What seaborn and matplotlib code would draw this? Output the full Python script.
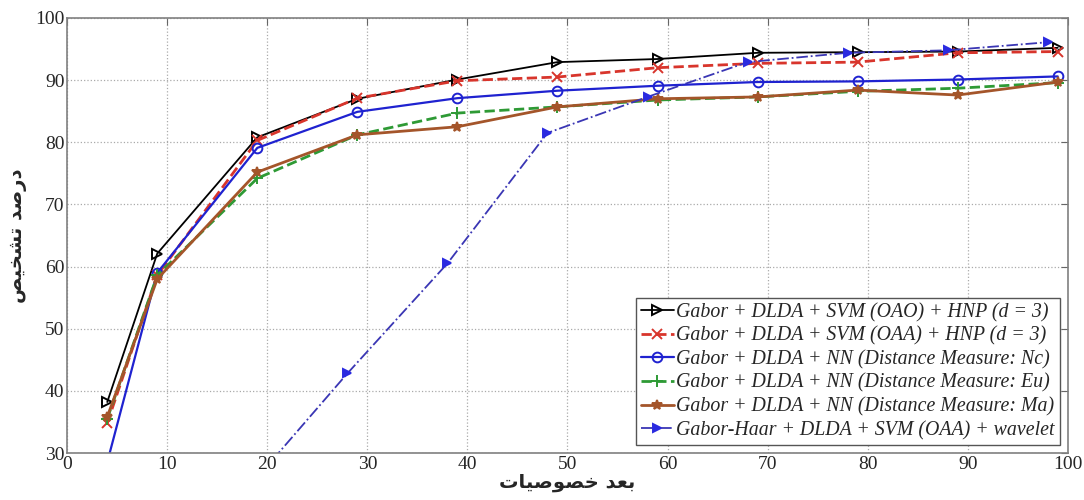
import matplotlib
matplotlib.use("Agg")
import matplotlib.pyplot as plt
import seaborn as sns

# feature dimension (x) for the main methods and for the wavelet method
x_main = [4, 9, 19, 29, 39, 49, 59, 69, 79, 89, 99]
x_wav = [18, 28, 38, 48, 58, 68, 78, 88, 98]

# recognition rate (%)
oao = [38.2, 62.1, 80.8, 87.0, 90.1, 92.9, 93.4, 94.4, 94.5, 94.6, 95.2]
oaa = [34.8, 58.6, 80.3, 87.1, 89.9, 90.5, 92.0, 92.7, 92.9, 94.4, 94.6]
nc = [28.5, 59.0, 79.1, 84.9, 87.1, 88.3, 89.1, 89.7, 89.8, 90.1, 90.6]
eu = [35.5, 58.6, 74.2, 81.2, 84.7, 85.7, 86.8, 87.3, 88.2, 88.7, 89.6]
ma = [35.8, 58.0, 75.2, 81.2, 82.5, 85.7, 87.0, 87.3, 88.4, 87.6, 89.7]
wav = [24.2, 42.8, 60.5, 81.5, 87.3, 92.9, 94.4, 94.8, 96.1]

labels = [
    "Gabor + DLDA + SVM (OAO) + HNP (d = 3)",
    "Gabor + DLDA + SVM (OAA) + HNP (d = 3)",
    "Gabor + DLDA + NN (Distance Measure: Nc)",
    "Gabor + DLDA + NN (Distance Measure: Eu)",
    "Gabor + DLDA + NN (Distance Measure: Ma)",
    "Gabor-Haar + DLDA + SVM (OAA) + wavelet",
]

# Persian axis titles, written in visual order with presentation forms
# (matplotlib does no Arabic shaping): "بعد خصوصیات" and "درصد تشخیص"
xlabel_txt = "\uFE95\uFE8E\uFEF4\uFEBB\uFEEE\uFEBC\uFEA7 \uFEAA\uFECC\uFE91"
ylabel_txt = "\uFEBA\uFEF4\uFEA8\uFEB8\uFE97 \uFEAA\uFEBB\uFEAD\uFEA9"

sns.set_style("white")
plt.rcParams["font.family"] = ["Liberation Serif", "DejaVu Sans"]

fig, ax = plt.subplots(figsize=(10.84, 5.0), dpi=100)
fig.subplots_adjust(left=0.062, right=0.985, top=0.964, bottom=0.094)

series = [
    (x_main, oao, "black", "-", ">", "none", 1.3, 7),
    (x_main, oaa, "#d8352c", "--", "x", "#d8352c", 2.0, 7),
    (x_main, nc, "#1f22d0", "-", "o", "none", 1.6, 7),
    (x_main, eu, "#2e9a35", "--", "+", "#2e9a35", 2.0, 8),
    (x_main, ma, "#a4552a", "-", "*", "#a4552a", 2.0, 7),
    (x_wav, wav, "#3a36b4", "-.", ">", "#2a2ae0", 1.3, 6),
]
for (xs, ys, col, ls, mk, mfc, lw, ms), lab in zip(series, labels):
    sns.lineplot(x=xs, y=ys, ax=ax, color=col, linestyle=ls, linewidth=lw,
                 marker=mk, markersize=ms, markerfacecolor=mfc,
                 markeredgecolor=col if mfc == "none" or mk in "x+*" else mfc,
                 markeredgewidth=1.4, label=lab)

ax.set_xlim(0, 100)
ax.set_ylim(30, 100)
ax.set_xticks(range(0, 101, 10))
ax.set_yticks(range(30, 101, 10))
ax.grid(True, linestyle=":", color="#aaaaaa", linewidth=0.9)
ax.tick_params(direction="in", length=5, top=True, right=True,
               labelsize=14, color="#666666", pad=2)
for sp in ax.spines.values():
    sp.set_color("#808080")
    sp.set_linewidth(1.2)

ax.set_xlabel(xlabel_txt, family=["DejaVu Sans"], fontsize=14,
              fontweight="bold", labelpad=0)
ax.set_ylabel(ylabel_txt, family=["DejaVu Sans"], fontsize=14,
              fontweight="bold", labelpad=6)

leg = ax.legend(loc="lower right", fancybox=False, framealpha=1,
                edgecolor="#555555", handlelength=1.7, handletextpad=0.1,
                borderaxespad=0.4, borderpad=0.25, labelspacing=0.22,
                prop={"family": "Liberation Serif", "style": "italic",
                      "size": 14.3})
leg.get_frame().set_linewidth(1.0)

fig.savefig("out.png", dpi=100)
